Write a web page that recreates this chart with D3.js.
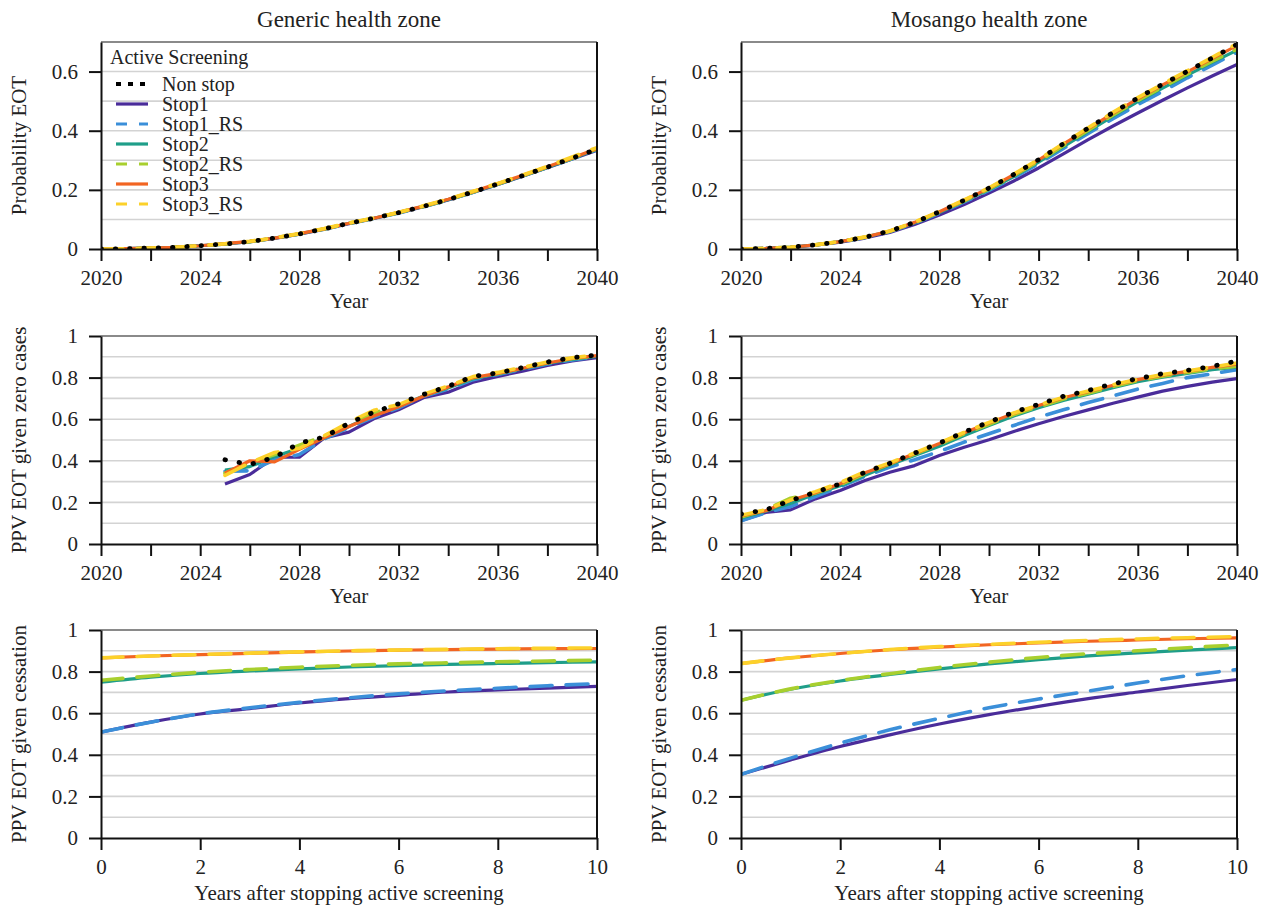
<!DOCTYPE html>
<html>
<head>
<meta charset="utf-8">
<script src="https://cdn.jsdelivr.net/npm/d3@7"></script>
<style>
  html, body { margin: 0; padding: 0; background: #fff; }
  svg { display: block; font-family: "Liberation Serif", "DejaVu Serif", serif; }
  svg text { font-family: "Liberation Serif", "DejaVu Serif", serif !important; }
</style>
</head>
<body>
<svg id="chart" width="1264" height="909"></svg>
<script>
// ---------------- DATA ----------------
const years = [2020,2021,2022,2023,2024,2025,2026,2027,2028,2029,2030,2031,2032,2033,2034,2035,2036,2037,2038,2039,2040];
const yearsAfter = [0,1,2,3,4,5,6,7,8,9,10];
const seriesNames = ["Non stop","Stop1","Stop1_RS","Stop2","Stop2_RS","Stop3","Stop3_RS"];
const seriesColors = ["#000000","#4a2c9a","#3b8fd9","#1f9e89","#a8cf2e","#f26522","#fcd12a"];
const panelTitles = ["Generic health zone","Mosango health zone"];
const yLabels = ["Probability EOT","PPV EOT given zero cases","PPV EOT given cessation"];
const xLabels = ["Year","Year","Years after stopping active screening"];
const yTicksTop = [0,0.2,0.4,0.6];
const yTicksPPV = [0,0.2,0.4,0.6,0.8,1];
const xTicksYear = [2020,2022,2024,2026,2028,2030,2032,2034,2036,2038,2040];
const xTicksAfter = [0,2,4,6,8,10];

// Generic health zone: Probability EOT (2020-2040)
const genEOT_NonStop  = [0,0.001,0.003,0.006,0.011,0.017,0.025,0.037,0.051,0.068,0.087,0.104,0.123,0.144,0.167,0.193,0.220,0.248,0.277,0.307,0.338];
const genEOT_Stop1    = [0,0.001,0.003,0.006,0.011,0.017,0.025,0.036,0.050,0.067,0.086,0.103,0.122,0.143,0.166,0.191,0.218,0.246,0.275,0.304,0.334];
const genEOT_Stop1RS  = [0,0.001,0.003,0.006,0.011,0.017,0.025,0.037,0.051,0.067,0.086,0.103,0.122,0.143,0.166,0.192,0.219,0.247,0.276,0.305,0.336];
const genEOT_Stop2    = [0,0.001,0.003,0.006,0.011,0.017,0.025,0.037,0.051,0.068,0.087,0.104,0.123,0.144,0.167,0.192,0.219,0.247,0.276,0.306,0.337];
const genEOT_Stop2RS  = [0,0.001,0.003,0.006,0.011,0.017,0.025,0.037,0.051,0.068,0.087,0.104,0.123,0.144,0.167,0.193,0.220,0.248,0.277,0.307,0.339];
const genEOT_Stop3    = [0,0.001,0.003,0.006,0.011,0.018,0.026,0.037,0.052,0.068,0.087,0.104,0.124,0.145,0.168,0.194,0.221,0.249,0.278,0.308,0.340];
const genEOT_Stop3RS  = [0,0.001,0.003,0.006,0.011,0.018,0.026,0.038,0.052,0.069,0.088,0.105,0.124,0.146,0.169,0.195,0.222,0.250,0.280,0.311,0.343];

// Mosango health zone: Probability EOT (2020-2040)
const mosEOT_NonStop  = [0,0.002,0.006,0.014,0.025,0.040,0.061,0.090,0.126,0.165,0.206,0.252,0.302,0.356,0.409,0.461,0.511,0.557,0.601,0.646,0.692];
const mosEOT_Stop1    = [0,0.002,0.006,0.013,0.023,0.037,0.056,0.083,0.115,0.150,0.189,0.230,0.274,0.322,0.370,0.416,0.460,0.503,0.545,0.585,0.624];
const mosEOT_Stop1RS  = [0,0.002,0.006,0.014,0.024,0.039,0.059,0.087,0.121,0.159,0.198,0.241,0.289,0.340,0.391,0.441,0.488,0.533,0.579,0.622,0.665];
const mosEOT_Stop2    = [0,0.002,0.006,0.014,0.025,0.040,0.060,0.088,0.123,0.161,0.201,0.245,0.294,0.346,0.398,0.449,0.498,0.544,0.588,0.631,0.672];
const mosEOT_Stop2RS  = [0,0.002,0.006,0.014,0.025,0.040,0.060,0.089,0.125,0.163,0.203,0.248,0.297,0.350,0.402,0.453,0.502,0.548,0.592,0.635,0.676];
const mosEOT_Stop3    = [0,0.002,0.006,0.014,0.025,0.040,0.061,0.090,0.126,0.165,0.206,0.251,0.301,0.355,0.407,0.459,0.508,0.555,0.599,0.644,0.688];
const mosEOT_Stop3RS  = [0,0.002,0.006,0.014,0.025,0.041,0.061,0.091,0.127,0.166,0.207,0.253,0.303,0.357,0.410,0.462,0.512,0.558,0.603,0.648,0.694];

// Generic health zone: PPV EOT given zero cases (2020-2024 no value)
const genPPV_NonStop  = [null,null,null,null,null,0.405,0.382,0.417,0.485,0.514,0.581,0.634,0.674,0.719,0.758,0.806,0.822,0.848,0.875,0.896,0.908];
const genPPV_Stop1    = [null,null,null,null,null,0.289,0.334,0.417,0.417,0.510,0.538,0.602,0.645,0.703,0.730,0.778,0.806,0.831,0.859,0.880,0.896];
const genPPV_Stop1RS  = [null,null,null,null,null,0.350,0.352,0.405,0.430,0.505,0.560,0.610,0.655,0.710,0.745,0.790,0.815,0.840,0.865,0.885,0.900];
const genPPV_Stop2    = [null,null,null,null,null,0.355,0.372,0.420,0.460,0.510,0.565,0.620,0.660,0.712,0.750,0.795,0.818,0.843,0.868,0.888,0.902];
const genPPV_Stop2RS  = [null,null,null,null,null,0.340,0.390,0.430,0.475,0.520,0.575,0.630,0.665,0.715,0.755,0.800,0.820,0.846,0.871,0.892,0.905];
const genPPV_Stop3    = [null,null,null,null,null,0.340,0.400,0.395,0.455,0.510,0.565,0.615,0.660,0.710,0.755,0.800,0.820,0.845,0.870,0.892,0.906];
const genPPV_Stop3RS  = [null,null,null,null,null,0.330,0.390,0.440,0.460,0.520,0.585,0.643,0.670,0.720,0.760,0.805,0.825,0.850,0.875,0.895,0.910];

// Mosango health zone: PPV EOT given zero cases (2020-2040)
const mosPPV_NonStop  = [0.144,0.164,0.209,0.249,0.289,0.345,0.388,0.437,0.485,0.538,0.586,0.634,0.671,0.710,0.738,0.770,0.795,0.819,0.835,0.854,0.880];
const mosPPV_Stop1    = [0.112,0.152,0.164,0.217,0.257,0.305,0.345,0.377,0.425,0.465,0.501,0.541,0.578,0.613,0.645,0.677,0.706,0.735,0.758,0.778,0.795];
const mosPPV_Stop1RS  = [0.112,0.150,0.180,0.228,0.275,0.325,0.370,0.405,0.445,0.490,0.530,0.570,0.610,0.645,0.680,0.712,0.745,0.772,0.800,0.818,0.838];
const mosPPV_Stop2    = [0.125,0.158,0.195,0.240,0.280,0.330,0.380,0.425,0.470,0.522,0.570,0.615,0.655,0.690,0.720,0.752,0.780,0.802,0.820,0.838,0.850];
const mosPPV_Stop2RS  = [0.130,0.165,0.220,0.245,0.285,0.338,0.385,0.432,0.480,0.530,0.575,0.622,0.660,0.697,0.725,0.757,0.785,0.807,0.825,0.842,0.855];
const mosPPV_Stop3    = [0.135,0.160,0.210,0.246,0.290,0.343,0.386,0.435,0.483,0.535,0.582,0.628,0.666,0.703,0.732,0.763,0.790,0.812,0.830,0.849,0.865];
const mosPPV_Stop3RS  = [0.138,0.165,0.212,0.252,0.295,0.348,0.390,0.438,0.486,0.537,0.585,0.630,0.668,0.706,0.735,0.766,0.792,0.815,0.832,0.851,0.870];

// Generic health zone: PPV EOT given cessation (years after stopping 0-10)
const genCess_Stop1   = [0.509,0.557,0.596,0.622,0.649,0.670,0.686,0.702,0.712,0.721,0.729];
const genCess_Stop1RS = [0.509,0.557,0.597,0.626,0.652,0.674,0.693,0.708,0.720,0.732,0.742];
const genCess_Stop2   = [0.749,0.773,0.791,0.803,0.813,0.822,0.829,0.835,0.839,0.843,0.847];
const genCess_Stop2RS = [0.758,0.779,0.797,0.810,0.821,0.830,0.837,0.842,0.847,0.851,0.855];
const genCess_Stop3   = [0.866,0.875,0.882,0.888,0.894,0.899,0.903,0.906,0.908,0.910,0.911];
const genCess_Stop3RS = [0.866,0.875,0.882,0.889,0.895,0.900,0.904,0.907,0.910,0.912,0.914];

// Mosango health zone: PPV EOT given cessation (years after stopping 0-10)
const mosCess_Stop1   = [0.306,0.375,0.440,0.496,0.548,0.593,0.633,0.670,0.702,0.733,0.762];
const mosCess_Stop1RS = [0.306,0.384,0.456,0.520,0.575,0.626,0.668,0.706,0.745,0.780,0.810];
const mosCess_Stop2   = [0.662,0.715,0.755,0.786,0.813,0.837,0.858,0.876,0.890,0.903,0.915];
const mosCess_Stop2RS = [0.662,0.717,0.757,0.790,0.820,0.845,0.868,0.886,0.900,0.915,0.928];
const mosCess_Stop3   = [0.839,0.866,0.887,0.905,0.918,0.929,0.938,0.946,0.952,0.958,0.962];
const mosCess_Stop3RS = [0.839,0.866,0.887,0.906,0.920,0.931,0.941,0.950,0.957,0.963,0.968];

// ---------------- LAYOUT / STYLE ----------------
const svg = d3.select("#chart");
const colX = [101, 741];
const panelW = 496;
const rowY = [[42, 249], [336, 544], [630, 838]];
const yMax = [0.7, 1, 1];
const FONT = "'Liberation Serif', 'DejaVu Serif', serif";

const styles = {
  "Non stop": {width: 4.8, dash: "0.5 13.8", cap: "round"},
  "Stop1":    {width: 3.2, dash: null, cap: "butt"},
  "Stop1_RS": {width: 3.6, dash: "22 14", cap: "round"},
  "Stop2":    {width: 3.2, dash: null, cap: "butt"},
  "Stop2_RS": {width: 3.6, dash: "22 14", cap: "round"},
  "Stop3":    {width: 3.2, dash: null, cap: "butt"},
  "Stop3_RS": {width: 3.6, dash: "22 14", cap: "round"}
};

const panels = [
  {row:0, col:0, x: years, series: [genEOT_Stop1, genEOT_Stop1RS, genEOT_Stop2, genEOT_Stop2RS, genEOT_Stop3, genEOT_Stop3RS, genEOT_NonStop]},
  {row:0, col:1, x: years, series: [mosEOT_Stop1, mosEOT_Stop1RS, mosEOT_Stop2, mosEOT_Stop2RS, mosEOT_Stop3, mosEOT_Stop3RS, mosEOT_NonStop]},
  {row:1, col:0, x: years, series: [genPPV_Stop1, genPPV_Stop1RS, genPPV_Stop2, genPPV_Stop2RS, genPPV_Stop3, genPPV_Stop3RS, genPPV_NonStop]},
  {row:1, col:1, x: years, series: [mosPPV_Stop1, mosPPV_Stop1RS, mosPPV_Stop2, mosPPV_Stop2RS, mosPPV_Stop3, mosPPV_Stop3RS, mosPPV_NonStop]},
  {row:2, col:0, x: yearsAfter, series: [genCess_Stop1, genCess_Stop1RS, genCess_Stop2, genCess_Stop2RS, genCess_Stop3, genCess_Stop3RS]},
  {row:2, col:1, x: yearsAfter, series: [mosCess_Stop1, mosCess_Stop1RS, mosCess_Stop2, mosCess_Stop2RS, mosCess_Stop3, mosCess_Stop3RS]}
];
// draw order: Stop1 ... Stop3_RS, Non stop last (on top)
const drawOrder = ["Stop1","Stop1_RS","Stop2","Stop2_RS","Stop3","Stop3_RS","Non stop"];

panels.forEach(p => {
  const x0 = colX[p.col], x1 = x0 + panelW;
  const [yTop, yBot] = rowY[p.row];
  const isYear = p.row < 2;
  const xs = d3.scaleLinear().domain(isYear ? [2020, 2040] : [0, 10]).range([x0, x1]);
  const ys = d3.scaleLinear().domain([0, yMax[p.row]]).range([yBot, yTop]);
  const g = svg.append("g");

  // gridlines every 0.1
  const gridVals = d3.range(1, Math.round(yMax[p.row] * 10)).map(v => v / 10);
  g.selectAll("line.grid").data(gridVals).enter().append("line")
    .attr("x1", x0).attr("x2", x1)
    .attr("y1", d => ys(d)).attr("y2", d => ys(d))
    .attr("stroke", "#d3d3d3").attr("stroke-width", 1.6);

  // clip
  const clipId = "clip" + p.row + p.col;
  svg.append("clipPath").attr("id", clipId).append("rect")
    .attr("x", x0).attr("y", yTop - 4).attr("width", panelW).attr("height", yBot - yTop + 4);

  // lines
  const lineGen = d3.line()
    .defined(d => d[1] !== null)
    .x(d => xs(d[0])).y(d => ys(d[1]));
  if (!isYear) lineGen.curve(d3.curveMonotoneX);
  const lg = g.append("g").attr("clip-path", `url(#${clipId})`);
  p.series.forEach((vals, i) => {
    const name = drawOrder[i];
    const st = styles[name];
    const col = seriesColors[seriesNames.indexOf(name)];
    lg.append("path")
      .datum(p.x.map((xv, k) => [xv, vals[k]]))
      .attr("fill", "none")
      .attr("stroke", col)
      .attr("stroke-width", st.width)
      .attr("stroke-linecap", st.cap)
      .attr("stroke-linejoin", "round")
      .attr("stroke-dasharray", st.dash)
      .attr("d", lineGen);
  });

  // spines: top grey, right black
  g.append("line").attr("x1", x0).attr("x2", x1).attr("y1", yTop).attr("y2", yTop)
    .attr("stroke", "#8a8a8a").attr("stroke-width", 1.8);
  g.append("line").attr("x1", x1).attr("x2", x1).attr("y1", yTop).attr("y2", yBot)
    .attr("stroke", "#111").attr("stroke-width", 2);

  // axes
  const xAxis = d3.axisBottom(xs)
    .tickValues(isYear ? xTicksYear : xTicksAfter)
    .tickFormat(d => isYear ? (d % 4 === 0 ? String(d) : "") : String(d))
    .tickSize(12).tickSizeOuter(0).tickPadding(9);
  const xg = g.append("g").attr("transform", `translate(0,${yBot})`).call(xAxis);
  const yAxis = d3.axisLeft(ys)
    .tickValues(p.row === 0 ? yTicksTop : yTicksPPV)
    .tickFormat(d3.format("~g"))
    .tickSize(12).tickSizeOuter(0).tickPadding(11);
  const yg = g.append("g").attr("transform", `translate(${x0},0)`).call(yAxis);
  [xg, yg].forEach(a => {
    a.attr("font-family", FONT).attr("font-size", 21);
    a.select(".domain").attr("stroke", "#111").attr("stroke-width", 2);
    a.selectAll(".tick line").attr("stroke", "#111").attr("stroke-width", 2);
    a.selectAll(".tick text").attr("fill", "#222");
  });

  // axis labels
  g.append("text")
    .attr("x", (x0 + x1) / 2).attr("y", yBot + (p.row === 2 ? 62 : 59))
    .attr("text-anchor", "middle").attr("fill", "#222")
    .attr("font-family", FONT).attr("font-size", 21)
    .text(xLabels[p.row]);
  const yc = (yTop + yBot) / 2;
  g.append("text")
    .attr("transform", `translate(${x0 - 75},${yc}) rotate(-90)`)
    .attr("text-anchor", "middle").attr("fill", "#222")
    .attr("font-family", FONT).attr("font-size", 21)
    .text(yLabels[p.row]);

  if (p.row === 0) {
    g.append("text")
      .attr("x", (x0 + x1) / 2).attr("y", 27)
      .attr("text-anchor", "middle").attr("fill", "#222")
      .attr("font-family", FONT).attr("font-size", 23)
      .text(panelTitles[p.col]);
  }
});

// legend (top-left panel)
const leg = svg.append("g").attr("font-family", FONT).attr("font-size", 20);
leg.append("text").attr("x", 110).attr("y", 64).attr("fill", "#222").text("Active Screening");
seriesNames.forEach((name, i) => {
  const ly = 84 + i * 20;
  const st = styles[name];
  leg.append("line")
    .attr("x1", 116).attr("x2", 148).attr("y1", ly).attr("y2", ly)
    .attr("stroke", seriesColors[i])
    .attr("stroke-width", name === "Non stop" ? 4 : 3.2)
    .attr("stroke-dasharray", name === "Non stop" ? "5 7" : (st.dash ? "11 12" : null));
  leg.append("text").attr("x", 162).attr("y", ly + 7).attr("fill", "#222").text(name);
});
</script>
</body>
</html>
